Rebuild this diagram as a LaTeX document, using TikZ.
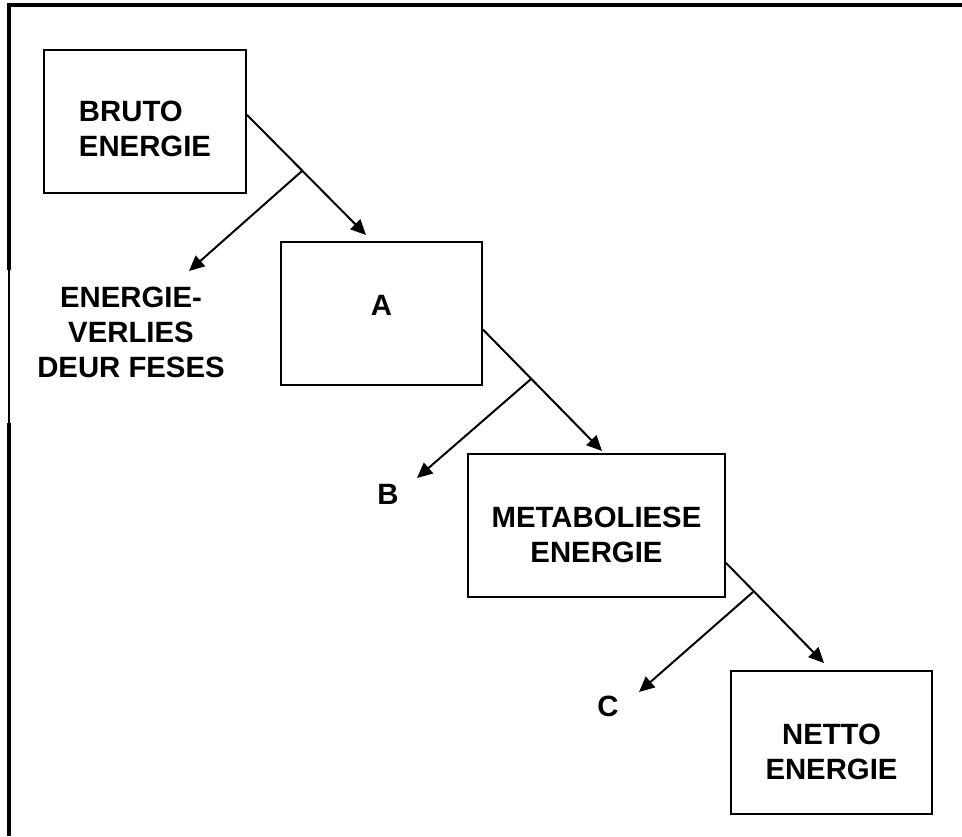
\documentclass[tikz,border=0pt]{standalone}
\usepackage{fontspec}
\setmainfont{Liberation Sans}
\usetikzlibrary{arrows.meta}

\tikzset{
  stage/.style={draw, line width=1.4pt, minimum height=107pt, align=center,
    inner sep=0pt, font=\fontsize{22}{26.25}\selectfont\bfseries},
  loss/.style={align=center, inner sep=0pt, font=\fontsize{22}{26.25}\selectfont\bfseries},
  flow/.style={line width=1.5pt, -{Triangle[length=11.5pt, width=10.5pt]}}
}

\begin{document}
\begin{tikzpicture}[x=0.75pt, y=-0.75pt]
\useasboundingbox (0,0) rectangle (962,836);
% frame
\draw[line width=3pt] (9,423)--(9,836);
\draw[line width=1pt] (9,270)--(9,423);
\draw[line width=3pt] (9,270)--(9,5)--(962,5);
% stages
\node[stage, minimum width=151.5pt, align=left, text height=52.5pt] (bruto) at (145,121.5) {BRUTO\\ENERGIE};
\node[stage, minimum width=150.75pt, text depth=12pt] (a) at (381.5,313.5) {A};
\node[stage, minimum width=192.75pt, text height=56pt] (metab) at (596.5,525.5) {METABOLIESE\\ENERGIE};
\node[stage, minimum width=150.75pt, text height=56pt] (netto) at (831.5,742.5) {NETTO\\ENERGIE};
% losses
\node[loss] (feses) at (131,332) {ENERGIE-\\VERLIES\\DEUR FESES};
\node[loss] (b) at (388,494) {B};
\node[loss] (c) at (608,706) {C};
% arrows
\coordinate (k1) at (302,171);
\coordinate (k2) at (531,379);
\coordinate (k3) at (753,592);
\draw[flow] ([yshift=5pt]bruto.east)--(366,235);
\draw[flow] (k1)--(189,271);
\draw[flow] ([yshift=-12pt]a.east)--(602,451);
\draw[flow] (k2)--(417,478);
\draw[flow] ([yshift=-28pt]metab.east)--(824,663);
\draw[flow] (k3)--(639,692);
\end{tikzpicture}
\end{document}
